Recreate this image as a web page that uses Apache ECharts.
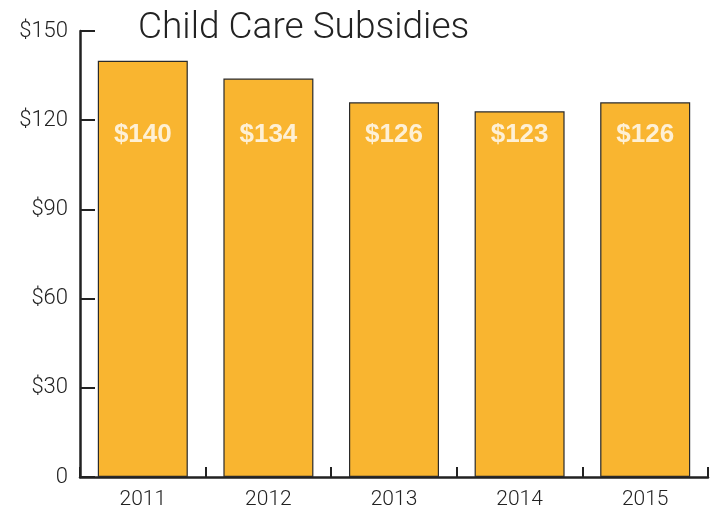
<!DOCTYPE html>
<html><head><meta charset="utf-8">
<script src="https://cdn.jsdelivr.net/npm/echarts@6/dist/echarts.min.js"></script>
<style>html,body{margin:0;padding:0;background:#fff}#c{width:718px;height:510px}</style>
</head><body><div id="c"></div>
<script>
const categories = ['2011', '2012', '2013', '2014', '2015'];
const values = [140, 134, 126, 123, 126];
const yTicks = [0, 30, 60, 90, 120, 150];
const labelLevel = 115; // value level where the in-bar labels sit

const chart = echarts.init(document.getElementById('c'), null, {renderer: 'canvas'});
const FONT = 'Roboto, "Liberation Sans", sans-serif';
chart.setOption({
  animation: false,
  title: {
    text: 'Child Care Subsidies', left: 133, top: 5,
    textStyle: {fontFamily: FONT, fontWeight: 300, fontSize: 37, color: '#222'}
  },
  grid: {left: 80, right: 10, top: 31, bottom: 32, containLabel: false},
  xAxis: {
    type: 'category', data: categories, boundaryGap: true,
    axisLine: {show: true, lineStyle: {color: '#222', width: 2.5}},
    axisTick: {show: true, inside: true, alignWithLabel: false, interval: 0, length: 10, lineStyle: {color: '#222', width: 2}},
    axisLabel: {fontFamily: FONT, fontWeight: 300, fontSize: 21, color: '#222', margin: 12}
  },
  yAxis: {
    type: 'value', min: yTicks[0], max: yTicks[yTicks.length - 1], interval: 30,
    axisLine: {show: true, lineStyle: {color: '#222', width: 2.5}},
    axisTick: {show: true, inside: true, length: 15, lineStyle: {color: '#222', width: 2}},
    splitLine: {show: false},
    axisLabel: {fontFamily: FONT, fontWeight: 300, fontSize: 22, color: '#222', margin: 12,
      formatter: v => v === 0 ? '0' : '$' + v}
  },
  series: [{
    type: 'bar', data: values, barWidth: 90, z: 1,
    itemStyle: {color: '#F9B530', borderColor: '#2a2a2a', borderWidth: 1.2},
    silent: true
  }, {
    type: 'scatter', symbolSize: 0,
    data: categories.map((c) => [c, labelLevel]),
    label: {show: true, position: 'inside', fontFamily: 'Arial, "Liberation Sans", sans-serif', fontWeight: 'bold', fontSize: 26, color: '#fff',
      formatter: p => '$' + values[p.dataIndex]},
    silent: true, z: 5
  }]
});
</script></body></html>
